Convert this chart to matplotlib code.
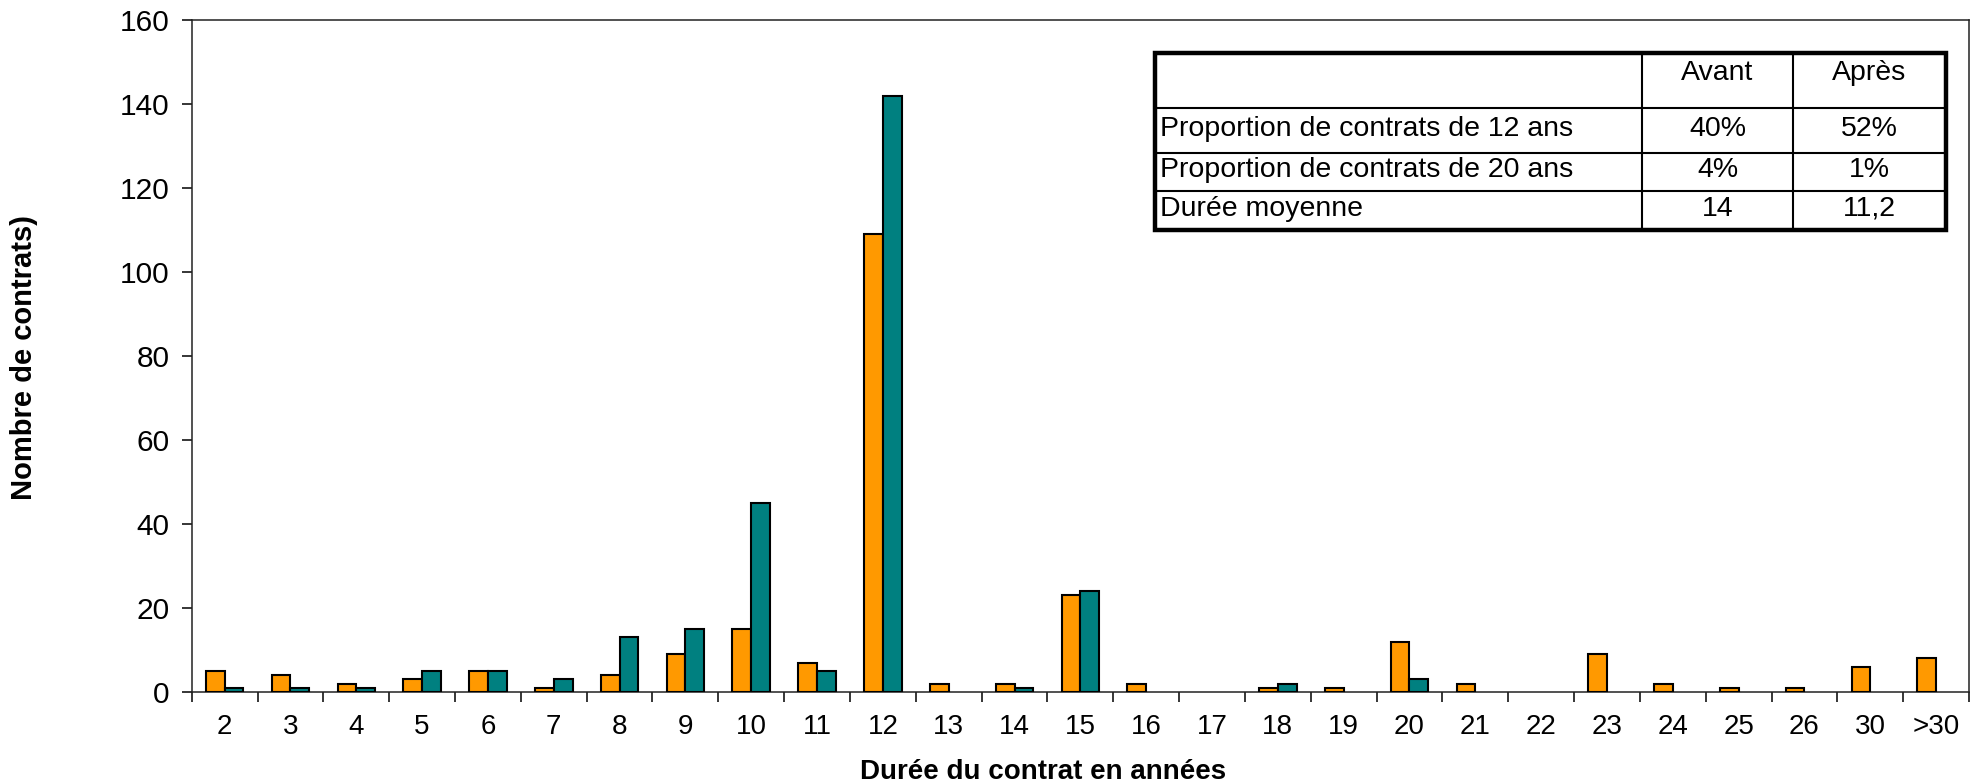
import numpy as np
import matplotlib
matplotlib.use("Agg")
import matplotlib.pyplot as plt
from matplotlib.patches import Rectangle

plt.rcParams['font.family'] = ['Liberation Sans', 'DejaVu Sans']

# durations (categories) and counts
durees = ['2', '3', '4', '5', '6', '7', '8', '9', '10', '11', '12', '13', '14',
          '15', '16', '17', '18', '19', '20', '21', '22', '23', '24', '25', '26',
          '30', '>30']
avant = [5, 4, 2, 3, 5, 1, 4, 9, 15, 7, 109, 2, 2, 23, 2, 0, 1, 1, 12, 2, 0, 9, 2, 1, 1, 6, 8]
apres = [1, 1, 1, 5, 5, 3, 13, 15, 45, 5, 142, 0, 1, 24, 0, 0, 2, 0, 3, 0, 0, 0, 0, 0, 0, 0, 0]

# summary table
tab_cols = ['', 'Avant', 'Après']
tab_rows = ['Proportion de contrats de 12 ans', 'Proportion de contrats de 20 ans', 'Durée moyenne']
tab_avant = ['40%', '4%', '14']
tab_apres = ['52%', '1%', '11,2']

W, H = 1979, 783
fig = plt.figure(figsize=(W / 100, H / 100), dpi=100)
ax = fig.add_axes([191.7 / W, 1 - 692 / H, (1969 - 191.7) / W, (692 - 20) / H])

x = np.arange(len(durees))
bw = 0.285
# empty categories get no bar at all
av = np.array(avant)
ap = np.array(apres)
ax.bar(x[av > 0] - bw / 2, av[av > 0], bw, color='#FF9900', edgecolor='black', linewidth=1.5, zorder=3)
ax.bar(x[ap > 0] + bw / 2, ap[ap > 0], bw, color='#008080', edgecolor='black', linewidth=1.5, zorder=3)

ax.set_xlim(-0.5, len(durees) - 0.5)
ax.set_ylim(0, 160)
ax.set_yticks(np.arange(0, 161, 20))
ax.tick_params(axis='y', direction='out', length=7, width=1.1, labelsize=21.5, pad=9)

# category ticks sit on boundaries, labels in the middle
ax.set_xticks(np.arange(-0.5, len(durees), 1.0))
ax.set_xticklabels([])
ax.set_xticks(x, minor=True)
ax.set_xticklabels(durees, minor=True)
ax.tick_params(axis='x', which='major', direction='out', length=7, width=1.1)
ax.tick_params(axis='x', which='minor', length=0, labelsize=20, pad=16)

for s in ax.spines.values():
    s.set_linewidth(1.1)
    s.set_color('#222222')

fig.text(1043 / W, 1 - 779 / H, 'Durée du contrat en années', ha='center', va='baseline',
         fontsize=20, fontweight='bold')
fig.text(24 / W, 1 - 357 / H, 'Nombre de contrats)', ha='center', va='center',
         rotation=90, fontsize=21, fontweight='bold')

# table drawn on an overlay in pixel coordinates
ov = fig.add_axes([0, 0, 1, 1])
ov.set_xlim(0, W)
ov.set_ylim(H, 0)
ov.axis('off')

tl, tr = 1155, 1946
cx = [tl, 1642, 1793, tr]
ry = [53, 108, 153, 191, 230]
ov.add_patch(Rectangle((tl, ry[0]), tr - tl, ry[-1] - ry[0], facecolor='white',
                       edgecolor='none', zorder=4))
for yy in ry[1:-1]:
    ov.plot([tl, tr], [yy, yy], color='black', lw=1.5, zorder=5)
for xx in cx[1:-1]:
    ov.plot([xx, xx], [ry[0], ry[-1]], color='black', lw=1.5, zorder=5)
ov.add_patch(Rectangle((tl, ry[0]), tr - tl, ry[-1] - ry[0], facecolor='none',
                       edgecolor='black', lw=3.2, zorder=6))

fs = 20.5
for j, h in enumerate(tab_cols[1:]):
    ov.text((cx[j + 1] + cx[j + 2]) / 2, 73, h, ha='center', va='center', fontsize=fs, zorder=7)
for i, lab in enumerate(tab_rows):
    yc = (ry[i + 1] + ry[i + 2]) / 2 - 2
    ov.text(tl + 5, yc, lab, ha='left', va='center', fontsize=fs, zorder=7)
    ov.text((cx[1] + cx[2]) / 2, yc, tab_avant[i], ha='center', va='center', fontsize=fs, zorder=7)
    ov.text((cx[2] + cx[3]) / 2, yc, tab_apres[i], ha='center', va='center', fontsize=fs, zorder=7)

fig.savefig('out.png', dpi=100)
